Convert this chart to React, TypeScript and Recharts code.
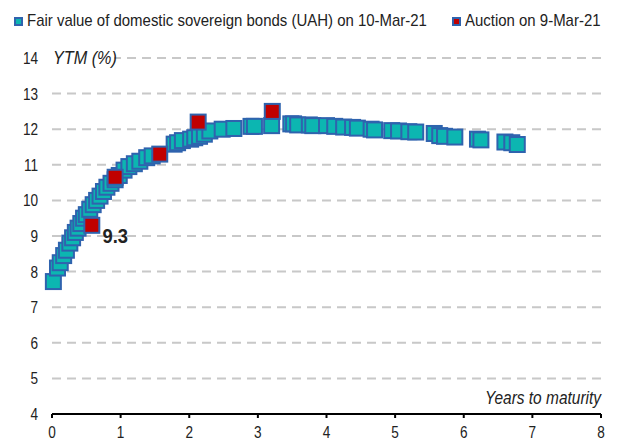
import {
  ScatterChart,
  Scatter,
  XAxis,
  YAxis,
  CartesianGrid,
  LabelList,
} from "recharts"

const fairX = [
  0.02, 0.08, 0.12, 0.17, 0.21, 0.26, 0.3, 0.34, 0.38, 0.42, 0.46, 0.5, 0.55,
  0.6, 0.65, 0.7, 0.75, 0.8, 0.86, 0.92, 0.98, 1.05, 1.12, 1.2, 1.28, 1.38,
  1.46, 1.78, 1.83, 1.9, 2.02, 2.08, 2.15, 2.22, 2.3, 2.48, 2.65, 2.9, 2.95,
  3.2, 3.48, 3.52, 3.58, 3.75, 3.8, 4.0, 4.12, 4.25, 4.38, 4.45, 4.65, 4.7,
  4.95, 5.05, 5.2, 5.3, 5.57, 5.65, 5.72, 5.87, 6.2, 6.25, 6.6, 6.7, 6.78,
]
const fairY = [
  7.72, 8.1, 8.25, 8.45, 8.6, 8.8, 8.95, 9.1, 9.22, 9.35, 9.5, 9.6, 9.75,
  9.88, 10.0, 10.12, 10.25, 10.37, 10.48, 10.58, 10.7, 10.85, 10.95, 11.03,
  11.1, 11.2, 11.25, 11.58, 11.62, 11.68, 11.72, 11.76, 11.8, 11.86, 11.95,
  12.0, 12.02, 12.08, 12.08, 12.1, 12.15, 12.15, 12.12, 12.12, 12.1, 12.1,
  12.08, 12.06, 12.05, 12.03, 12.0, 11.98, 11.96, 11.95, 11.93, 11.92, 11.88,
  11.82, 11.8, 11.78, 11.72, 11.7, 11.64, 11.62, 11.57,
]

const auctionX = [0.58, 0.92, 1.57, 2.13, 3.21]
const auctionY = [9.3, 10.65, 11.3, 12.2, 12.5]
const auctionLabel = ["9.3", "", "", "", ""]

const xTicks = [0, 1, 2, 3, 4, 5, 6, 7, 8]
const yTicks = [4, 5, 6, 7, 8, 9, 10, 11, 12, 13, 14]

const fairName = "Fair value of domestic sovereign bonds (UAH) on 10-Mar-21"
const auctionName = "Auction on 9-Mar-21"

const fairData = fairX.map((x, i) => ({ x, y: fairY[i] }))
const auctionData = auctionX.map((x, i) => ({
  x,
  y: auctionY[i],
  label: auctionLabel[i],
}))

// no narrow font installed, so squeeze Liberation Sans horizontally
const FONT = '"Liberation Sans", Arial, sans-serif'
const BORDER = "#2f63ae"
const TEAL = "#0cb6b1"
const RED = "#c00000"
const INK = "#222"

const square = (fill: string) => (props: any) => {
  const { cx, cy } = props
  return (
    <rect
      x={cx - 7.5}
      y={cy - 7.5}
      width={15}
      height={15}
      fill={fill}
      stroke={BORDER}
      strokeWidth={2}
    />
  )
}

function NarrowText({
  x,
  y,
  anchor = "start",
  size = 17,
  squeeze = 0.8,
  italic = false,
  bold = false,
  children,
}: any) {
  return (
    <g transform={`translate(${x},${y}) scale(${squeeze},1)`}>
      <text
        x={0}
        y={0}
        textAnchor={anchor}
        fontSize={size}
        fontStyle={italic ? "italic" : "normal"}
        fontWeight={bold ? "bold" : "normal"}
        fill={INK}
        fontFamily={FONT}
      >
        {children}
      </text>
    </g>
  )
}

const XTick = (p: any) => (
  <NarrowText x={p.x} y={p.y + 18} anchor="middle">
    {p.payload.value}
  </NarrowText>
)

const YTick = (p: any) => (
  <NarrowText x={p.x} y={p.y + 6} anchor="end">
    {p.payload.value}
  </NarrowText>
)

function LegendItem({ color, text, left }: { color: string; text: string; left: number }) {
  return (
    <div
      style={{
        position: "absolute",
        left,
        top: 11,
        display: "flex",
        alignItems: "center",
        fontSize: 17,
        color: INK,
        whiteSpace: "nowrap",
      }}
    >
      <span
        style={{
          display: "inline-block",
          width: 5,
          height: 5,
          background: color,
          border: `2px solid ${BORDER}`,
          marginRight: 4,
        }}
      />
      <span
        style={{
          display: "inline-block",
          transform: "scaleX(0.88)",
          transformOrigin: "left center",
        }}
      >
        {text}
      </span>
    </div>
  )
}

export default function App() {
  return (
    <div
      style={{
        position: "absolute",
        left: 0,
        top: 0,
        width: 619,
        height: 441,
        background: "#fff",
        fontFamily: FONT,
      }}
    >
      <LegendItem color={TEAL} text={fairName} left={14} />
      <LegendItem color={RED} text={auctionName} left={452} />
      <ScatterChart
        width={619}
        height={441}
        margin={{ top: 58, right: 18, bottom: 0, left: 0 }}
      >
        <CartesianGrid
          horizontal
          vertical={false}
          stroke="#c8c8c8"
          strokeWidth={2}
          strokeDasharray="9 6"
        />
        <XAxis
          type="number"
          dataKey="x"
          domain={[0, 8]}
          ticks={xTicks}
          height={27}
          axisLine={{ stroke: "#000", strokeWidth: 2 }}
          tickLine={{ stroke: "#000", strokeWidth: 2 }}
          tickSize={4}
          tick={XTick}
          label={(p: any) => {
            const vb = p.viewBox
            return (
              <NarrowText x={vb.x + vb.width} y={vb.y - 10} anchor="end" size={18} squeeze={0.86} italic>
                Years to maturity
              </NarrowText>
            )
          }}
        />
        <YAxis
          type="number"
          dataKey="y"
          domain={[4, 14]}
          ticks={yTicks}
          width={52}
          axisLine={false}
          tickLine={false}
          tickSize={6}
          tickMargin={8}
          tick={YTick}
          label={(p: any) => {
            const vb = p.viewBox
            return (
              <g>
                <rect x={vb.x + vb.width} y={vb.y - 12} width={62} height={24} fill="#fff" />
                <NarrowText x={vb.x + vb.width + 1} y={vb.y + 6} size={18} squeeze={0.9} italic>
                  YTM (%)
                </NarrowText>
              </g>
            )
          }}
        />
        <Scatter
          name={fairName}
          data={fairData}
          shape={square(TEAL)}
          isAnimationActive={false}
        />
        <Scatter
          name={auctionName}
          data={auctionData}
          shape={square(RED)}
          isAnimationActive={false}
        >
          <LabelList
            dataKey="label"
            content={(p: any) =>
              p.value ? (
                <NarrowText x={p.x + 28} y={p.y + 22} anchor="middle" size={20} squeeze={0.92} bold>
                  {p.value}
                </NarrowText>
              ) : null
            }
          />
        </Scatter>
      </ScatterChart>
    </div>
  )
}
